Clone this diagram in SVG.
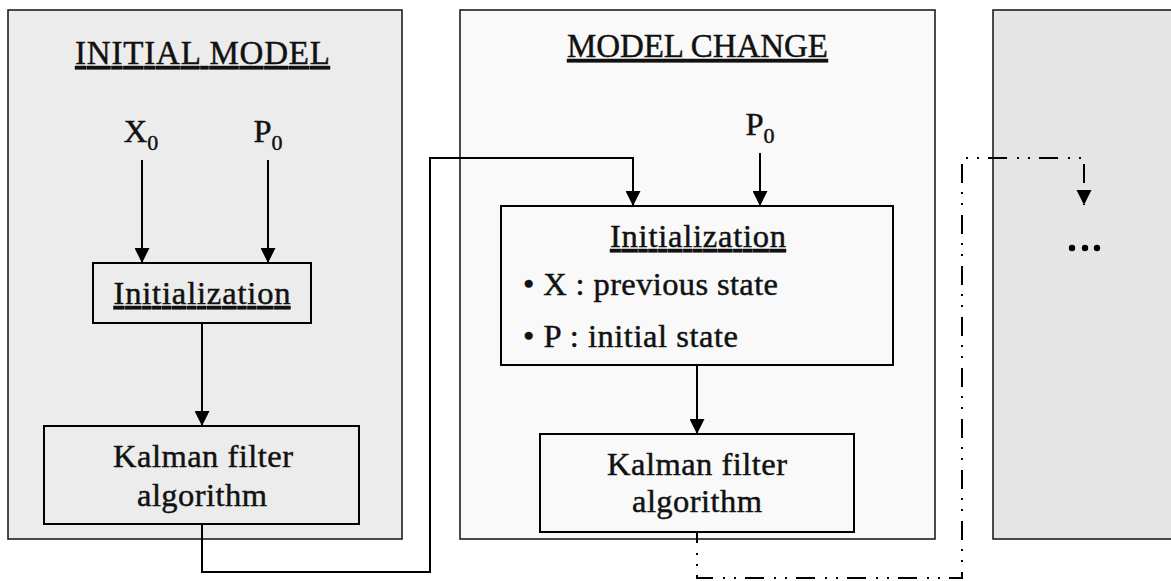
<svg xmlns="http://www.w3.org/2000/svg" width="1171" height="581" viewBox="0 0 1171 581">
  <style>
    text { font-family: 'Liberation Serif', 'DejaVu Serif', serif; fill: #111; stroke: #111; stroke-width: 0.45; }
    .title { font-size: 33px; text-decoration: underline; }
    .body { font-size: 32.5px; }
    .sub { font-size: 22px; }
    .panel { stroke: #1e1e1e; stroke-width: 1.6; }
    .box { stroke: #000; stroke-width: 2; }
    .conn { fill: none; stroke: #000; stroke-width: 2; }
    .dashdot { fill: none; stroke: #000; stroke-width: 2; stroke-dasharray: 19 10 2 9 2 9; stroke-dashoffset: 8; }
  </style>
  <defs>
    <marker id="arrow" viewBox="0 0 10 10" refX="10" refY="5" markerUnits="userSpaceOnUse" markerWidth="15" markerHeight="15" orient="auto">
      <path d="M0,0 L10,5 L0,10 z" fill="#000"/>
    </marker>
  </defs>
  <rect width="1171" height="581" fill="#fff"/>

  <g id="panel-initial-model">
    <rect class="panel" x="8" y="10" width="394" height="529" fill="#ececec"/>
    <text class="title" x="202.5" y="64" text-anchor="middle" textLength="255">INITIAL MODEL</text>
    <text class="body" x="141" y="142" text-anchor="middle">X<tspan class="sub" dy="8">0</tspan></text>
    <text class="body" x="268" y="142" text-anchor="middle">P<tspan class="sub" dy="8">0</tspan></text>
  </g>

  <g id="init-1">
    <rect class="box" x="93" y="263" width="218" height="60" fill="#ececec"/>
    <text class="body" x="202" y="304" text-anchor="middle" textLength="177" text-decoration="underline">Initialization</text>
  </g>

  <g id="kalman-1">
    <rect class="box" x="44" y="426" width="315" height="98" fill="#ececec"/>
    <text class="body" x="203" y="467" text-anchor="middle" textLength="180">Kalman filter</text>
    <text class="body" x="202" y="506" text-anchor="middle" textLength="130">algorithm</text>
  </g>

  <g id="panel-model-change">
    <rect class="panel" x="460" y="10" width="475" height="529" fill="#f9f9f9"/>
    <text class="title" x="697.5" y="57" text-anchor="middle" textLength="261">MODEL CHANGE</text>
    <text class="body" x="760" y="135" text-anchor="middle">P<tspan class="sub" dy="8">0</tspan></text>
  </g>

  <g id="init-2">
    <rect class="box" x="501" y="206" width="392" height="159" fill="#f9f9f9"/>
    <text class="body" x="698" y="247" text-anchor="middle" textLength="176" text-decoration="underline">Initialization</text>
    <text class="body" x="523" y="295" textLength="255">• X : previous state</text>
    <text class="body" x="523" y="347" textLength="215">• P : initial state</text>
  </g>

  <g id="kalman-2">
    <rect class="box" x="540" y="434" width="314" height="98" fill="#f9f9f9"/>
    <text class="body" x="697" y="475" text-anchor="middle" textLength="180">Kalman filter</text>
    <text class="body" x="697" y="512" text-anchor="middle" textLength="130">algorithm</text>
  </g>

  <g id="panel-next">
    <rect class="panel" x="993" y="10" width="200" height="529" fill="#e5e5e5"/>
    <circle cx="1072" cy="248" r="3.2" fill="#000"/>
    <circle cx="1085" cy="248" r="3.2" fill="#000"/>
    <circle cx="1097" cy="248" r="3.2" fill="#000"/>
  </g>

  <g id="connectors">
    <line class="conn" x1="142" y1="160" x2="142" y2="263" marker-end="url(#arrow)"/>
    <line class="conn" x1="268" y1="160" x2="268" y2="263" marker-end="url(#arrow)"/>
    <line class="conn" x1="202" y1="323" x2="202" y2="426" marker-end="url(#arrow)"/>
    <path class="conn" d="M202,524 V572 H430 V158 H633 V206" marker-end="url(#arrow)"/>
    <line class="conn" x1="760" y1="153" x2="760" y2="206" marker-end="url(#arrow)"/>
    <line class="conn" x1="697" y1="365" x2="697" y2="434" marker-end="url(#arrow)"/>
    <path class="dashdot" d="M697,532 V578 H962 V158 H1084 V205"/>
    <path d="M1076.5,190 L1091.5,190 L1084,205 z" fill="#000"/>
  </g>
</svg>
